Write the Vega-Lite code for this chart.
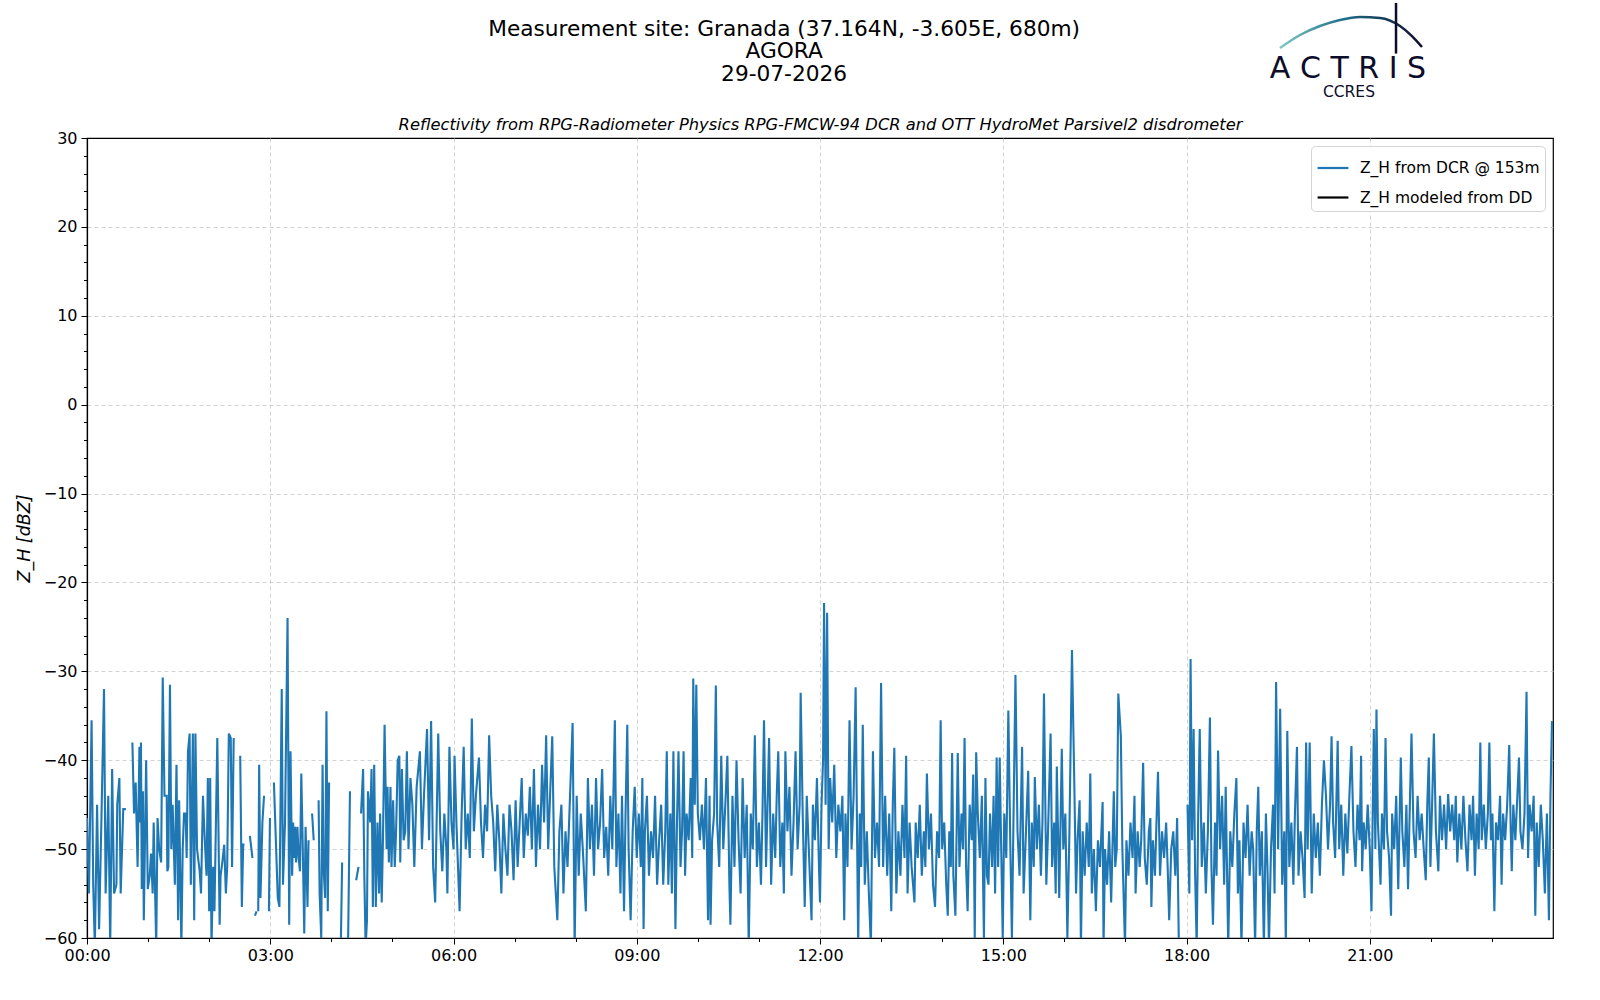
{
"$schema":"https://vega.github.io/schema/vega-lite/v6.json",
"width":1466,"height":800,
"autosize":{"type":"none"},
"padding":{"left":87,"top":138,"right":47,"bottom":62},
"background":"white",
"title":{"text":["Measurement site: Granada (37.164N, -3.605E, 680m)","AGORA","29-07-2026"],"frame":"bounds","anchor":"middle","font":"DejaVu Sans","fontSize":21.7,"fontWeight":"normal","color":"#000000","lineHeight":22.5,"offset":-84},
"config":{
"view":{"stroke":"#000000","strokeWidth":1.2},
"font":"DejaVu Sans",
"legend":{"orient":"top-right","offset":8,"fillColor":"white","strokeColor":"#d5d5d5","cornerRadius":4,"padding":5,"labelFont":"DejaVu Sans","labelFontSize":15.5,"labelColor":"#000000","labelLimit":400,"symbolType":"stroke","symbolStrokeWidth":2.2,"symbolSize":950,"rowPadding":3.5,"labelOffset":10}
},
"datasets":{
"dcr":[
{"m":0,"z":-46.5},{"m":1.9,"z":-55},{"m":4.5,"z":-35.5},{"m":6.1,"z":-54},{"m":7.7,"z":-61},{"m":9.9,"z":-45},{"m":11.9,"z":-59},{"m":14.1,"z":-47},{"m":16.7,"z":-32},{"m":18.3,"z":-55},{"m":20.9,"z":-44},{"m":22.8,"z":-61},{"m":24.7,"z":-41},{"m":26.6,"z":-55},{"m":28.9,"z":-54},{"m":29.7,"z":-45},{"m":31.8,"z":-42},{"m":33.1,"z":-55},{"m":35.6,"z":-45.5},{"m":38.2,"z":-45.5},{"m":40,"z":null},
{"m":44.6,"z":-38},{"m":46.2,"z":-46},{"m":47.8,"z":-42.5},{"m":49.7,"z":-52},{"m":51.5,"z":-38.5},{"m":52.3,"z":-47},{"m":53,"z":-38},{"m":53.8,"z":-54.5},{"m":54.9,"z":-43.5},{"m":55.8,"z":-58},{"m":58.1,"z":-40},{"m":59.7,"z":-54.5},{"m":61.6,"z":-53},{"m":62.9,"z":-50.5},{"m":64.5,"z":-55},{"m":65.5,"z":-47},{"m":68,"z":-61},{"m":69.3,"z":-46.5},{"m":70.9,"z":-50},{"m":72.8,"z":-51.5},{"m":74.4,"z":-30.7},{"m":76.1,"z":-44},{"m":78.3,"z":-44},{"m":78.9,"z":-52.5},{"m":79.9,"z":-52},{"m":81.5,"z":-31.5},{"m":82.8,"z":-50},{"m":84.1,"z":-45},{"m":86.3,"z":-54},{"m":87.9,"z":-40.5},{"m":89.5,"z":-58},{"m":90.5,"z":-44.5},{"m":92.7,"z":-61},{"m":94,"z":-50},{"m":95.3,"z":-46},{"m":96.9,"z":-46},{"m":97.9,"z":-51},{"m":99.2,"z":-39},{"m":100.8,"z":-37},{"m":102,"z":-54},{"m":104,"z":-37},{"m":105.3,"z":-58},{"m":106.5,"z":-37},{"m":108.1,"z":-50},{"m":110.7,"z":-52.5},{"m":112,"z":-55},{"m":113.9,"z":-44},{"m":115.5,"z":-48.5},{"m":117.4,"z":-53},{"m":118.7,"z":-42},{"m":120,"z":-57},{"m":121,"z":-42},{"m":122.3,"z":-61},{"m":123.9,"z":-52},{"m":125.2,"z":-57},{"m":128,"z":-37.5},{"m":130.3,"z":-58.5},{"m":131.2,"z":-53},{"m":132.9,"z":-51.5},{"m":134.8,"z":-49.5},{"m":136.4,"z":-55},{"m":137.7,"z":-52},{"m":139.3,"z":-37},{"m":141.2,"z":-37.5},{"m":142.5,"z":-52},{"m":144.1,"z":-37.5},{"m":146,"z":null},
{"m":150.5,"z":-39.5},{"m":152.1,"z":-56.5},{"m":153.4,"z":-49.5},{"m":154.7,"z":-49.5},{"m":157,"z":null},
{"m":160,"z":-48.5},{"m":162.5,"z":-51},{"m":163.5,"z":null},
{"m":165,"z":-57.5},{"m":166.5,"z":-57},{"m":167,"z":null},
{"m":168.2,"z":-57},{"m":169.1,"z":-40.5},{"m":170.4,"z":-55.5},{"m":172.3,"z":-47},{"m":173.9,"z":-44},{"m":175,"z":null},
{"m":178.7,"z":-57},{"m":179.7,"z":-46.5},{"m":181,"z":null},
{"m":183.6,"z":-42.5},{"m":187.4,"z":-55.5},{"m":189,"z":-56.5},{"m":191.3,"z":-32},{"m":192.5,"z":-54},{"m":194.5,"z":-47},{"m":197,"z":-24},{"m":198.6,"z":-58.5},{"m":199.9,"z":-39},{"m":201.5,"z":-53},{"m":202.5,"z":-47},{"m":203.5,"z":-51},{"m":204.4,"z":-47.5},{"m":205.4,"z":-51.5},{"m":206.7,"z":-47.5},{"m":207.9,"z":-51},{"m":209.2,"z":-52.5},{"m":210.5,"z":-41.5},{"m":211.8,"z":-49},{"m":213.4,"z":-59.5},{"m":214.7,"z":-47.5},{"m":216.6,"z":-56.5},{"m":217.6,"z":-49},{"m":219,"z":null},
{"m":221.1,"z":-46},{"m":222.7,"z":-49},{"m":224,"z":null},
{"m":227.5,"z":-44.5},{"m":228.5,"z":-55},{"m":230.1,"z":-60},{"m":231.4,"z":-40.5},{"m":232.3,"z":-52},{"m":233.9,"z":-55.5},{"m":235.2,"z":-34.5},{"m":236.5,"z":-57},{"m":237.8,"z":-42.5},{"m":240,"z":null},
{"m":249.3,"z":-61},{"m":250.6,"z":-51.5},{"m":252,"z":null},
{"m":256.4,"z":-61},{"m":258.3,"z":-43.5},{"m":260,"z":null},
{"m":264.4,"z":-53.5},{"m":266.7,"z":-52},{"m":268,"z":null},
{"m":269.2,"z":-46},{"m":271.2,"z":-41},{"m":272.4,"z":-53},{"m":273.7,"z":-61},{"m":275,"z":-58},{"m":276,"z":-43.5},{"m":277.3,"z":-45.5},{"m":278.2,"z":-47},{"m":279.5,"z":-41},{"m":280.8,"z":-56.5},{"m":282.1,"z":-40.5},{"m":283.7,"z":-56.5},{"m":285.3,"z":-47},{"m":286.9,"z":-55},{"m":287.9,"z":-46},{"m":289.5,"z":-56},{"m":290.7,"z":-49},{"m":292.3,"z":-36},{"m":294.3,"z":-50},{"m":295.2,"z":-43},{"m":296.5,"z":-51.5},{"m":298.1,"z":-43},{"m":299.1,"z":-52},{"m":300.7,"z":-44.5},{"m":302.3,"z":-52},{"m":303.6,"z":-48},{"m":305.2,"z":-40},{"m":306.8,"z":-39.5},{"m":307.7,"z":-51.5},{"m":309.3,"z":-41},{"m":311,"z":-49},{"m":312.6,"z":-48},{"m":314.2,"z":-39},{"m":315.8,"z":-50},{"m":317.7,"z":-42},{"m":319.6,"z":-45},{"m":321.5,"z":-52},{"m":323.8,"z":-43},
{"m":327,"z":-39},{"m":329,"z":-50},{"m":331,"z":-44},{"m":334,"z":-36.5},{"m":336,"z":-49},{"m":338,"z":-35.6},{"m":340,"z":-52},{"m":342,"z":-56},{"m":345,"z":-37},{"m":347,"z":-48},{"m":349,"z":-52.5},{"m":351,"z":-46},{"m":353,"z":-50},{"m":354,"z":-55},{"m":356,"z":-38.5},{"m":358,"z":-47},{"m":360,"z":-50},{"m":361,"z":-39.5},{"m":363,"z":-47.5},{"m":366,"z":-57},{"m":368,"z":-46},{"m":370,"z":-38.5},{"m":372,"z":-50},{"m":374,"z":-46},{"m":376,"z":-51},{"m":378,"z":-35.3},{"m":380,"z":-48},{"m":382,"z":-44},{"m":385,"z":-39.7},{"m":387,"z":-47},{"m":389,"z":-51},{"m":391,"z":-45},{"m":393,"z":-48},{"m":395,"z":-37.2},{"m":397,"z":-44},{"m":399,"z":-47},{"m":401,"z":-52.5},{"m":403,"z":-45},{"m":405,"z":-49},{"m":407,"z":-55},{"m":409,"z":-46},{"m":411,"z":-50},{"m":413,"z":-53},{"m":415,"z":-45},{"m":417,"z":-48},{"m":419,"z":-53.5},{"m":421,"z":-44.5},{"m":423,"z":-52},{"m":425,"z":-47},{"m":427,"z":-42},{"m":429,"z":-51},{"m":431,"z":-46},{"m":433,"z":-48.5},{"m":435,"z":-43},{"m":437,"z":-50},{"m":439,"z":-41},{"m":441,"z":-52},{"m":443,"z":-45},{"m":445,"z":-50},{"m":447,"z":-40.5},{"m":449,"z":-47},{"m":451,"z":-37.2},{"m":453,"z":-50},{"m":455,"z":-43.5},{"m":457,"z":-37.3},{"m":459,"z":-52},{"m":462,"z":-58},{"m":464,"z":-48},{"m":466,"z":-45},{"m":468,"z":-55},{"m":470,"z":-48},{"m":472,"z":-52},{"m":474,"z":-45.5},{"m":477,"z":-35.8},{"m":479,"z":-61},{"m":481,"z":-44},{"m":483,"z":-53},{"m":485,"z":-46},{"m":487,"z":-50},{"m":490,"z":-57},{"m":492,"z":-42},{"m":494,"z":-50},{"m":496,"z":-45},{"m":498,"z":-53},{"m":500,"z":-42},{"m":502,"z":-50},{"m":504,"z":-47},{"m":506,"z":-41},{"m":508,"z":-51},{"m":510,"z":-47.5},{"m":512,"z":-53},{"m":514,"z":-44},{"m":516,"z":-50},{"m":518.5,"z":-35.5},{"m":520,"z":-52},{"m":522,"z":-46},{"m":524,"z":-55},{"m":525.5,"z":-44},{"m":527.5,"z":-57},{"m":529,"z":-46},{"m":530.7,"z":-36},{"m":532,"z":-50},{"m":534,"z":-58},{"m":536,"z":-48},{"m":538,"z":-43},{"m":540,"z":-51},{"m":542,"z":-46},{"m":544,"z":-52},{"m":545.5,"z":-42},{"m":546.7,"z":-59},{"m":548,"z":-48},{"m":550,"z":-44},{"m":552,"z":-53},{"m":554,"z":-48},{"m":556,"z":-51},{"m":558,"z":-44},{"m":560,"z":-54},{"m":562,"z":-49},{"m":564,"z":-45},{"m":566,"z":-54},{"m":568,"z":-48},{"m":569.5,"z":-39},{"m":571,"z":-54},{"m":573,"z":-46},{"m":574.5,"z":-55},{"m":576,"z":-39},{"m":578,"z":-59},{"m":579.5,"z":-47},{"m":581,"z":-39},{"m":583,"z":-52},{"m":584.5,"z":-48},{"m":586,"z":-39},{"m":587.5,"z":-53},{"m":589,"z":-46},{"m":591,"z":-49},{"m":593,"z":-42},{"m":594.5,"z":-51},{"m":595.5,"z":-30.8},{"m":597,"z":-45},{"m":598.5,"z":-31.5},{"m":600,"z":-46},{"m":602,"z":-49},{"m":604,"z":-45},{"m":606,"z":-50},{"m":608,"z":-42},{"m":610,"z":-58},{"m":611.5,"z":-44},{"m":612.5,"z":-58.5},{"m":614,"z":-49},{"m":616,"z":-46},{"m":617.7,"z":-31.6},{"m":619,"z":-47},{"m":621,"z":-52},{"m":623,"z":-39.5},{"m":625,"z":-50},{"m":627,"z":-45},{"m":629,"z":-39.5},{"m":631,"z":-54},{"m":632,"z":-58.5},{"m":634,"z":-44},{"m":636,"z":-52},{"m":638,"z":-40},{"m":640,"z":-49},{"m":642,"z":-55},{"m":644,"z":-42},{"m":646,"z":-51},{"m":648,"z":-45},{"m":650,"z":-61},{"m":652,"z":-46},{"m":654,"z":-50},{"m":656,"z":-37.2},{"m":658,"z":-52},{"m":660,"z":-47},{"m":662,"z":-54},{"m":663.5,"z":-46},{"m":665,"z":-35.5},{"m":667,"z":-52},{"m":668.5,"z":-45},{"m":670,"z":-37.5},{"m":672,"z":-54},{"m":674,"z":-46},{"m":676,"z":-51},{"m":677.5,"z":-44},{"m":679,"z":-39},{"m":681,"z":-52},{"m":683,"z":-47},{"m":684.5,"z":-55},{"m":686,"z":-39},{"m":688,"z":-48},{"m":690,"z":-43},{"m":692,"z":-53},{"m":694,"z":-47},{"m":696,"z":-39},{"m":698,"z":-50},{"m":700,"z":-45},{"m":701,"z":-32.4},{"m":703,"z":-46},{"m":705,"z":-56.5},{"m":707,"z":-44},{"m":709,"z":-50},{"m":711.7,"z":-58},{"m":713,"z":-45},{"m":715,"z":-49},{"m":717,"z":-42},{"m":719,"z":-52},{"m":720,"z":-56},{"m":721.5,"z":-45},{"m":723,"z":-40},{"m":724,"z":-22.3},{"m":725.5,"z":-45},{"m":727,"z":-23.4},{"m":728.5,"z":-50},{"m":730,"z":-42},{"m":732,"z":-47},{"m":734,"z":-40.5},{"m":736,"z":-51},{"m":738,"z":-45},{"m":740,"z":-48},{"m":742,"z":-44},{"m":743.8,"z":-58},{"m":745,"z":-46},{"m":747,"z":-52},{"m":749,"z":-35.5},{"m":751,"z":-50},{"m":753,"z":-44},{"m":755,"z":-31.8},{"m":757.5,"z":-61},{"m":759,"z":-46},{"m":760.5,"z":-52},{"m":762,"z":-36},{"m":764,"z":-54},{"m":766,"z":-48},{"m":768,"z":-55},{"m":770,"z":-61},{"m":772,"z":-39},{"m":774,"z":-51},{"m":776,"z":-47},{"m":778,"z":-52},{"m":780,"z":-31.3},{"m":782,"z":-52},{"m":784,"z":-44},{"m":786,"z":-53},{"m":788,"z":-46},{"m":790,"z":-57},{"m":791.5,"z":-45},{"m":793,"z":-38.6},{"m":795,"z":-55},{"m":797,"z":-48},{"m":799,"z":-53},{"m":801,"z":-45},{"m":803,"z":-51},{"m":804.6,"z":-39.5},{"m":806,"z":-55},{"m":808,"z":-47},{"m":810,"z":-52},{"m":812.8,"z":-56},{"m":814,"z":-47},{"m":816,"z":-51},{"m":818,"z":-45},{"m":820,"z":-53},{"m":822,"z":-48},{"m":823.5,"z":-52},{"m":825,"z":-41.5},{"m":827,"z":-50},{"m":829,"z":-46},{"m":831,"z":-54},{"m":833,"z":-56.5},{"m":835,"z":-48},{"m":837,"z":-51},{"m":838.5,"z":-35.5},{"m":840,"z":-50},{"m":842,"z":-47},{"m":844,"z":-54},{"m":845.5,"z":-57.5},{"m":847,"z":-48},{"m":848.5,"z":-52},{"m":849.8,"z":-39.2},{"m":851,"z":-53},{"m":853,"z":-57.5},{"m":855.3,"z":-39.2},{"m":857,"z":-52},{"m":859,"z":-46},{"m":860.5,"z":-50},{"m":862,"z":-37.5},{"m":863.5,"z":-52},{"m":865,"z":-57},{"m":867,"z":-45},{"m":869,"z":-49},{"m":870.5,"z":-41.6},{"m":872,"z":-60},{"m":873.4,"z":-39.1},{"m":875,"z":-46},{"m":877,"z":-51},{"m":879,"z":-44},{"m":881,"z":-60},{"m":882.5,"z":-42},{"m":884,"z":-53},{"m":885.5,"z":-54},{"m":887,"z":-46},{"m":889,"z":-52},{"m":890.5,"z":-44},{"m":892,"z":-55},{"m":893.5,"z":-39.7},{"m":895,"z":-52},{"m":896.5,"z":-39.7},{"m":898,"z":-50},{"m":899.5,"z":-60},{"m":901,"z":-46},{"m":903,"z":-51},{"m":905,"z":-34.4},{"m":907,"z":-50},{"m":908.5,"z":-60},{"m":910,"z":-47},{"m":912,"z":-30.4},{"m":914,"z":-48},{"m":916,"z":-53},{"m":918.5,"z":-38.5},{"m":920,"z":-55},{"m":922,"z":-49},{"m":924.5,"z":-41.2},{"m":926.6,"z":-58},{"m":928,"z":-47},{"m":930,"z":-52},{"m":931,"z":-41.9},{"m":933,"z":-50},{"m":935,"z":-45},{"m":937,"z":-53},{"m":938.5,"z":-47},{"m":940,"z":-32.5},{"m":942.3,"z":-54},{"m":944,"z":-48},{"m":946.5,"z":-37},{"m":948,"z":-52},{"m":950,"z":-47},{"m":951.5,"z":-55},{"m":952.6,"z":-40.7},{"m":955,"z":-55.5},{"m":957.5,"z":-38.7},{"m":959,"z":-50},{"m":961,"z":-46},{"m":963,"z":-60},{"m":965,"z":-48},{"m":967.5,"z":-27.6},{"m":970,"z":-44},{"m":971.5,"z":-55},{"m":973,"z":-49},{"m":975,"z":-44.5},{"m":976.3,"z":-61},{"m":978,"z":-48},{"m":980,"z":-53},{"m":982,"z":-47},{"m":984,"z":-52},{"m":985.5,"z":-41.5},{"m":987,"z":-55},{"m":989,"z":-50},{"m":991,"z":-57},{"m":993,"z":-49},{"m":995,"z":-52},{"m":997.6,"z":-44.7},{"m":998.5,"z":-61},{"m":1000,"z":-50},{"m":1002,"z":-54},{"m":1004,"z":-48},{"m":1006,"z":-56},{"m":1008.6,"z":-43.5},{"m":1010,"z":-52},{"m":1011.5,"z":-50},{"m":1013,"z":-32.5},{"m":1015.5,"z":-37.3},{"m":1017,"z":-50},{"m":1019.6,"z":-61},{"m":1021,"z":-49},{"m":1023,"z":-53},{"m":1025,"z":-47},{"m":1027,"z":-51},{"m":1028.9,"z":-44},{"m":1030,"z":-55},{"m":1032,"z":-48},{"m":1034,"z":-52},{"m":1035.5,"z":-49},{"m":1037.4,"z":-40.3},{"m":1039,"z":-51},{"m":1041,"z":-54},{"m":1043,"z":-48},{"m":1044.5,"z":-46.5},{"m":1045.5,"z":-56.5},{"m":1047,"z":-49},{"m":1049,"z":-53},{"m":1050.5,"z":-47},{"m":1052,"z":-41.3},{"m":1054,"z":-53},{"m":1056,"z":-48},{"m":1058,"z":-51},{"m":1060,"z":-47},{"m":1061.5,"z":-52},{"m":1063,"z":-58},{"m":1065,"z":-50},{"m":1067,"z":-48},{"m":1069,"z":-53},{"m":1070.8,"z":-46.5},{"m":1072.5,"z":-61},{"m":1074,"z":null},
{"m":1081,"z":-45},{"m":1082.8,"z":-55},{"m":1084,"z":-28.6},{"m":1085.5,"z":-49},{"m":1087,"z":-36.5},{"m":1088.5,"z":-53},{"m":1090,"z":-61},{"m":1091.5,"z":-46},{"m":1093,"z":-36.5},{"m":1095,"z":-52},{"m":1097,"z":-47},{"m":1099,"z":-55},{"m":1101,"z":-48},{"m":1103,"z":-35.2},{"m":1104.5,"z":-52},{"m":1106,"z":-58.5},{"m":1108,"z":-47},{"m":1109.5,"z":-53},{"m":1111,"z":-38.9},{"m":1113,"z":-50},{"m":1115,"z":-44},{"m":1117,"z":-54},{"m":1118.5,"z":-43},{"m":1121,"z":-61},{"m":1123,"z":-48},{"m":1125,"z":-52},{"m":1127,"z":-46},{"m":1129,"z":-42},{"m":1130.5,"z":-55},{"m":1132,"z":-49},{"m":1134,"z":-61},{"m":1136,"z":-47},{"m":1138,"z":-51},{"m":1140,"z":-45},{"m":1142,"z":-53},{"m":1144,"z":-48},{"m":1145.5,"z":-50},{"m":1147.4,"z":-61},{"m":1149,"z":-48},{"m":1150.5,"z":-43},{"m":1152,"z":-53},{"m":1154,"z":-48},{"m":1156,"z":-61},{"m":1158,"z":-46},{"m":1159.5,"z":-52},{"m":1161,"z":-61},{"m":1163,"z":-50},{"m":1165,"z":-45},{"m":1166.5,"z":-55},{"m":1168,"z":-31.2},{"m":1170,"z":-50},{"m":1172,"z":-34.2},{"m":1174,"z":-54},{"m":1176,"z":-48},{"m":1177.6,"z":-61},{"m":1179,"z":-36.7},{"m":1181,"z":-52},{"m":1183,"z":-47},{"m":1185,"z":-54},{"m":1186.5,"z":-46},{"m":1188.5,"z":-38.5},{"m":1190,"z":-53},{"m":1192,"z":-48},{"m":1194,"z":-51},{"m":1196,"z":-55.5},{"m":1197.5,"z":-38},{"m":1199,"z":-50},{"m":1201,"z":-38},{"m":1203,"z":-55},{"m":1205,"z":-46},{"m":1207,"z":-51},{"m":1209,"z":-47},{"m":1211,"z":-53},{"m":1213,"z":-45},{"m":1215,"z":-40},{"m":1217,"z":-44},{"m":1219,"z":-50},{"m":1221,"z":-45},{"m":1222.5,"z":-37.3},{"m":1224,"z":-47},{"m":1226,"z":-51},{"m":1228.5,"z":-37.8},{"m":1230,"z":-50},{"m":1232,"z":-45},{"m":1234,"z":-53},{"m":1236,"z":-46},{"m":1238,"z":-50.5},{"m":1240,"z":-44},{"m":1242,"z":-38.4},{"m":1244,"z":-48},{"m":1246,"z":-52},{"m":1248,"z":-45},{"m":1250,"z":-49},{"m":1251.5,"z":-39.5},{"m":1252.5,"z":-52.5},{"m":1254,"z":-47},{"m":1256,"z":-50},{"m":1258,"z":-45},{"m":1260,"z":-50},{"m":1261.7,"z":-57},{"m":1263,"z":-45},{"m":1264,"z":-36.5},{"m":1265.5,"z":-50},{"m":1266.6,"z":-34.3},{"m":1268,"z":-47},{"m":1270.6,"z":-54},{"m":1272,"z":-46},{"m":1274,"z":-50},{"m":1275.5,"z":-37.5},{"m":1277,"z":-48},{"m":1279,"z":-51},{"m":1280.9,"z":-57.5},{"m":1282,"z":-46},{"m":1284,"z":-50},{"m":1286,"z":-44},{"m":1288,"z":-54.5},{"m":1290.5,"z":-39.7},{"m":1292,"z":-48},{"m":1294,"z":-52},{"m":1296,"z":-45},{"m":1297.6,"z":-54.5},{"m":1299,"z":-47},{"m":1301,"z":-37},{"m":1303,"z":-48},{"m":1305,"z":-51},{"m":1307,"z":-44},{"m":1309,"z":-49},{"m":1311,"z":-46},{"m":1313,"z":-50},{"m":1315,"z":-53.5},{"m":1316.5,"z":-45},{"m":1318,"z":-39.7},{"m":1319.6,"z":-52},{"m":1321,"z":-46},{"m":1323,"z":-37},{"m":1325,"z":-48},{"m":1327.4,"z":-52.5},{"m":1329,"z":-44},{"m":1331,"z":-49},{"m":1333,"z":-45},{"m":1335,"z":-50},{"m":1337,"z":-43.8},{"m":1339,"z":-48},{"m":1341,"z":-45},{"m":1343,"z":-49},{"m":1344.5,"z":-44},{"m":1346,"z":-51.5},{"m":1348,"z":-46},{"m":1350,"z":-50},{"m":1352,"z":-44},{"m":1354,"z":-49},{"m":1356,"z":-52.5},{"m":1358,"z":-45},{"m":1360,"z":-49},{"m":1361.5,"z":-44},{"m":1363.3,"z":-53},{"m":1365,"z":-46},{"m":1367,"z":-50},{"m":1368.6,"z":-38},{"m":1370,"z":-49},{"m":1372,"z":-45},{"m":1374,"z":-50},{"m":1376,"z":-46},{"m":1377.5,"z":-38},{"m":1379,"z":-49},{"m":1380.5,"z":-46},{"m":1382.4,"z":-57},{"m":1384,"z":-47},{"m":1386,"z":-49},{"m":1388,"z":-44},{"m":1389.5,"z":-54},{"m":1391,"z":-46},{"m":1393,"z":-49},{"m":1395,"z":-45},{"m":1397,"z":-38.3},{"m":1398.5,"z":-48},{"m":1399.5,"z":-52.5},{"m":1401,"z":-45},{"m":1403,"z":-49},{"m":1405,"z":-44},{"m":1406.6,"z":-39.7},{"m":1408,"z":-48},{"m":1410,"z":-50},{"m":1412,"z":-46},{"m":1414,"z":-32.3},{"m":1415.5,"z":-51},{"m":1417,"z":-45},{"m":1419,"z":-48},{"m":1421,"z":-44},{"m":1422.6,"z":-57.5},{"m":1424,"z":-47},{"m":1426,"z":-52},{"m":1428,"z":-45},{"m":1430,"z":-49},{"m":1432,"z":-55},{"m":1434,"z":-46},{"m":1436,"z":-58},{"m":1437.5,"z":-44},{"m":1439,"z":-35.6}
],
"arc":[
{"m":1171.8,"z":40.13},{"m":1191.5,"z":41.59},{"m":1211.1,"z":42.6},{"m":1230.8,"z":43.28},{"m":1250.4,"z":43.61},{"m":1270.1,"z":43.5},{"m":1289.7,"z":42.6},{"m":1301.5,"z":41.47},{"m":1311.3,"z":40.24}
]
},
"layer":[
{
"data":{"name":"dcr"},
"mark":{"type":"line","strokeWidth":2.1,"clip":true,"invalid":"break-paths-show-domains"},
"encoding":{
"x":{"field":"m","type":"quantitative","scale":{"domain":[0,1440],"nice":false,"zero":false},
 "axis":{"orient":"bottom","title":null,"values":[0,60,120,180,240,300,360,420,480,540,600,660,720,780,840,900,960,1020,1080,1140,1200,1260,1320,1380],
 "labelExpr":"datum.value % 180 === 0 ? ((datum.value/60 < 10 ? '0' : '') + (datum.value/60) + ':00') : ''",
 "labelFont":"DejaVu Sans","labelFontSize":16,"labelColor":"#000000","labelPadding":3,"labelOverlap":false,"labelFlush":false,
 "tickColor":"#000000","tickWidth":1,"tickSize":{"condition":{"test":"datum.value % 180 === 0","value":6},"value":3.5},
 "domainColor":"#000000","domainWidth":1.2,
 "grid":true,"gridColor":"#c8c8c8","gridDash":[4,3],"gridWidth":0.8,"gridOpacity":{"condition":{"test":"datum.value % 180 === 0 && datum.value > 0","value":1},"value":0}}},
"y":{"field":"z","type":"quantitative","scale":{"domain":[-60,30],"nice":false,"zero":false},
 "axis":{"orient":"left","title":"Z_H [dBZ]","titleFont":"DejaVu Sans","titleFontSize":17.5,"titleFontStyle":"italic","titleFontWeight":"normal","titleColor":"#000000","titlePadding":10,
 "values":[-60,-58,-56,-54,-52,-50,-48,-46,-44,-42,-40,-38,-36,-34,-32,-30,-28,-26,-24,-22,-20,-18,-16,-14,-12,-10,-8,-6,-4,-2,0,2,4,6,8,10,12,14,16,18,20,22,24,26,28,30],
 "labelExpr":"datum.value % 10 === 0 ? datum.label : ''",
 "labelFont":"DejaVu Sans","labelFontSize":16,"labelColor":"#000000","labelPadding":4,"labelOverlap":false,"labelFlush":false,
 "tickColor":"#000000","tickWidth":1,"tickSize":{"condition":{"test":"datum.value % 10 === 0","value":6},"value":3.5},
 "domainColor":"#000000","domainWidth":1.2,
 "grid":true,"gridColor":"#c8c8c8","gridDash":[4,3],"gridWidth":0.8,"gridOpacity":{"condition":{"test":"datum.value % 10 === 0 && datum.value > -60 && datum.value < 30","value":1},"value":0}}},
"color":{"datum":"Z_H from DCR @ 153m","type":"nominal","scale":{"domain":["Z_H from DCR @ 153m","Z_H modeled from DD"],"range":["#1f77b4","#000000"]},"legend":{"title":null}}
}
},
{
"data":{"name":"arc"},
"mark":{"type":"line","clip":false,"strokeWidth":2.5,"interpolate":"monotone","color":{"gradient":"linear","x1":0,"x2":1,"y1":0,"y2":0,"stops":[{"offset":0,"color":"#7cc8c4"},{"offset":0.45,"color":"#1f6f88"},{"offset":1,"color":"#0d0d2b"}]}},
"encoding":{
"x":{"field":"m","type":"quantitative","scale":{"domain":[0,1440],"nice":false,"zero":false},
 "axis":{"orient":"top","title":"Reflectivity from RPG-Radiometer Physics RPG-FMCW-94 DCR and OTT HydroMet Parsivel2 disdrometer","titleFont":"DejaVu Sans","titleFontSize":16.3,"titleFontStyle":"italic","titleFontWeight":"normal","titleColor":"#000000","titlePadding":6,"labels":false,"ticks":false,"domain":false,"grid":false}},
"y":{"field":"z","type":"quantitative","scale":{"domain":[-60,30],"nice":false,"zero":false},"axis":null}
}
},
{
"data":{"values":[{}]},
"mark":{"type":"rule","clip":false,"color":"#0d0d2b","strokeWidth":2.5},
"encoding":{
"x":{"datum":1285.8,"type":"quantitative","axis":null},
"y":{"datum":45.2,"type":"quantitative","axis":null},
"y2":{"datum":39.5}
}
},
{
"data":{"values":[{}]},
"mark":{"type":"text","clip":false,"font":"DejaVu Sans","fontSize":30,"color":"#0d0d2b","align":"center","baseline":"middle","text":"A C T R I S"},
"encoding":{
"x":{"datum":1238.6,"type":"quantitative","axis":null},
"y":{"datum":37.8,"type":"quantitative","axis":null}
}
},
{
"data":{"values":[{}]},
"mark":{"type":"text","clip":false,"font":"DejaVu Sans","fontSize":15.5,"color":"#0d0d2b","align":"center","baseline":"middle","text":"CCRES"},
"encoding":{
"x":{"datum":1239.6,"type":"quantitative","axis":null},
"y":{"datum":35.2,"type":"quantitative","axis":null}
}
}
],
"resolve":{"axis":{"x":"independent","y":"independent"}}
}
